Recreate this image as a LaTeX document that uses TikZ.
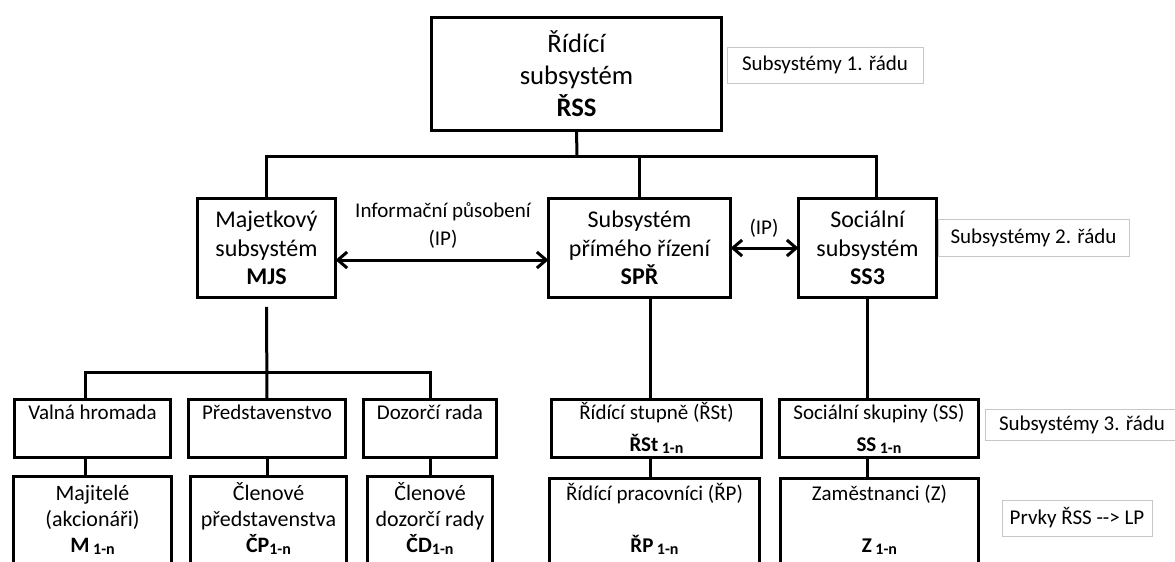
\documentclass[tikz,border=0pt]{standalone}
\usepackage{fontspec}
\setmainfont{Carlito}[Ligatures=TeXOff]
\usetikzlibrary{arrows.meta}
% small bold index set a little below the baseline
\newcommand{\lowsub}[1]{\raisebox{-1.5pt}{\fontsize{12}{12}\selectfont\bfseries #1}}
\newcommand{\px}{0.75pt}

\begin{document}
\begin{tikzpicture}[x=0.75pt,y=-0.75pt,
  every node/.style={inner sep=0pt,outer sep=0pt},
  box/.style={draw,rectangle,line width=2.25pt,align=center,fill=white},
  topbox/.style={box,font=\fontsize{20}{24}\selectfont},
  midbox/.style={box,minimum width=138*\px,minimum height=99*\px,font=\fontsize{18}{21.4}\selectfont},
  lowbox/.style={box,minimum height=58*\px,text height=34pt,text depth=0pt,font=\fontsize{15.75}{24}\selectfont},
  memberbox/.style={box,minimum height=91*\px,text height=45pt,text depth=0pt,font=\fontsize{16.5}{19.5}\selectfont},
  staffbox/.style={box,minimum height=90*\px,text height=43.5pt,text depth=0pt,font=\fontsize{15.75}{19.5}\selectfont},
  tag/.style={draw=black!22,line width=0.75pt,rectangle,fill=white,font=\fontsize{15.75}{19}\selectfont},
  link/.style={line width=2.25pt},
  twoway/.style={line width=2.25pt,{Straight Barb[length=7pt,width=12pt]}-{Straight Barb[length=7pt,width=12pt]}},
  iplabel/.style={align=center,font=\fontsize{15.75}{21}\selectfont}
]
\useasboundingbox (0,0) rectangle (1175,561);
\clip (0,0) rectangle (1175,561);

% order tags
\node[tag,minimum width=196*\px,minimum height=36*\px] (t1) at (825,65) {Subsystémy 1. řádu};
\node[tag,minimum width=191*\px,minimum height=37*\px] (t2) at (1033.5,237.5) {Subsystémy 2. řádu};
\node[tag,minimum width=194*\px,minimum height=31*\px] (t3) at (1082,424.5) {Subsystémy 3. řádu};
\node[tag,minimum width=150*\px,minimum height=36*\px] (t4) at (1077,518) {Prvky ŘSS --> LP};

% first order
\node[topbox,minimum width=290*\px,minimum height=113*\px] (rss) at (576.5,74)
  {Řídící\\subsystém\\\textbf{ŘSS}};

% second order
\node[midbox] (mjs) at (266.5,248) {Majetkový\\subsystém\\\textbf{MJS}};
\node[midbox,minimum width=182*\px] (spr) at (639.5,248) {Subsystém\\přímého řízení\\\textbf{SPŘ}};
\node[midbox] (ss3) at (867.5,248) {Sociální\\subsystém\\\textbf{SS3}};

% third order
\node[lowbox,minimum width=156*\px] (valna) at (92.5,428.5) {Valná hromada\\\phantom{X}};
\node[lowbox,minimum width=157*\px] (pred) at (267,428.5) {Představenstvo\\\phantom{X}};
\node[lowbox,minimum width=133*\px] (dozor) at (430,428.5) {Dozorčí rada\\\phantom{X}};
\node[lowbox,minimum width=210*\px] (rst) at (656.5,428.5) {Řídící stupně (ŘSt)\\\textbf{ŘSt}\,\lowsub{1-n}};
\node[lowbox,minimum width=199*\px] (ss) at (879,428.5) {Sociální skupiny (SS)\\\textbf{SS}\,\lowsub{1-n}};

% elements
\node[memberbox,minimum width=158*\px] (maj) at (92.5,522) {Majitelé\\(akcionáři)\\\textbf{M}\,\lowsub{1-n}};
\node[memberbox,minimum width=156*\px] (clp) at (268.5,522) {Členové\\představenstva\\\textbf{ČP}\lowsub{1-n}};
\node[memberbox,minimum width=125*\px] (cld) at (430,522) {Členové\\dozorčí rady\\\textbf{ČD}\lowsub{1-n}};
\node[staffbox,minimum width=210*\px] (rp) at (654.5,523) {Řídící pracovníci (ŘP)\\\phantom{X}\\\textbf{ŘP}\,\lowsub{1-n}};
\node[staffbox,minimum width=198*\px] (z) at (879.5,523) {Zaměstnanci (Z)\\\phantom{X}\\\textbf{Z}\,\lowsub{1-n}};

% tree from the top box
\coordinate (bus1) at (577,156);
\draw[link] (rss.south) -- (bus1);
\draw[link] (mjs.north) |- (bus1) -| ([xshift=7pt]ss3.north);
\draw[link] (spr.north) -- (spr.north |- bus1);

% property subsystem branch
\coordinate (bus2) at (268,372);
\draw[link] ([yshift=-7pt]mjs.south) -- (pred.north);
\draw[link] ([xshift=-5.6pt]valna.north) |- (bus2) -| (dozor.north);
\draw[link] ([xshift=-5.6pt]valna.south) -- ([xshift=-5.6pt]maj.north);
\draw[link] (pred.south) -- (pred.south |- clp.north);
\draw[link] (dozor.south) -- (cld.north);

% management and social branches
\draw[link] ([xshift=8.6pt]spr.south) -- ([xshift=8.6pt]spr.south |- rst.north);
\draw[link] ([xshift=8.6pt]spr.south |- rst.south) -- ([xshift=8.6pt]spr.south |- rp.north);
\draw[link] (ss3.south) -- (ss3.south |- ss.north);
\draw[link] (ss.south -| ss3.south) -- (ss3.south |- z.north);

% information links
\draw[twoway] ([yshift=-9pt]mjs.east) -- ([yshift=-9pt]mjs.east -| spr.west);
\draw[twoway] (spr.east) -- (ss3.west);
\node[iplabel] (ip1) at (443,226) {Informační působení\\(IP)};
\node[iplabel] (ip2) at (764,228) {(IP)};
\end{tikzpicture}
\end{document}
